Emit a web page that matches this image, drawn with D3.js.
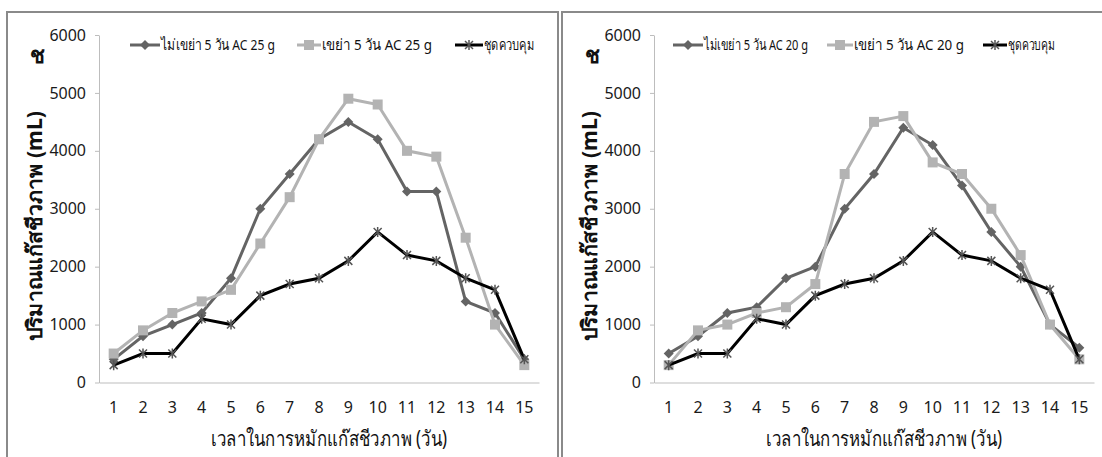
<!DOCTYPE html>
<html>
<head>
<meta charset="utf-8">
<script src="https://cdn.jsdelivr.net/npm/d3@7"></script>
<style>
  body { margin: 0; background: #fff; }
  svg { display: block; }
  .axis text { font-family: "Noto Sans", "DejaVu Sans", sans-serif; font-stretch: condensed; font-size: 16px; fill: #1a1a1a; }
  .axis path, .axis line { stroke: #bdbdbd; }
  .lbl { font-family: "Noto Sans", "DejaVu Sans", sans-serif; fill: #111; }
</style>
</head>
<body>
<svg width="1102" height="457"></svg>
<script>
// days of composting
var days = [1, 2, 3, 4, 5, 6, 7, 8, 9, 10, 11, 12, 13, 14, 15];
var yTicks = [0, 1000, 2000, 3000, 4000, 5000, 6000];

// left panel: AC 25 g
var noShake25 = [400, 800, 1000, 1200, 1800, 3000, 3600, 4200, 4500, 4200, 3300, 3300, 1400, 1200, 400];
var shake25   = [500, 900, 1200, 1400, 1600, 2400, 3200, 4200, 4900, 4800, 4000, 3900, 2500, 1000, 300];
var control25 = [300, 500, 500, 1100, 1000, 1500, 1700, 1800, 2100, 2600, 2200, 2100, 1800, 1600, 400];

// right panel: AC 20 g
var noShake20 = [500, 800, 1200, 1300, 1800, 2000, 3000, 3600, 4400, 4100, 3400, 2600, 2000, 1000, 600];
var shake20   = [300, 900, 1000, 1200, 1300, 1700, 3600, 4500, 4600, 3800, 3600, 3000, 2200, 1000, 400];
var control20 = [300, 500, 500, 1100, 1000, 1500, 1700, 1800, 2100, 2600, 2200, 2100, 1800, 1600, 400];

var names25 = ["ไม่เขย่า 5 วัน AC 25 g", "เขย่า 5 วัน AC 25 g", "ชุดควบคุม"];
var names20 = ["ไม่เขย่า 5 วัน AC 20 g", "เขย่า 5 วัน AC 20 g", "ชุดควบคุม"];

var colors = ["#646464", "#b3b3b3", "#000000"];
var shapes = ["diamond", "square", "star"];

var yTitle = "ปริมาณแก๊สชีวภาพ (mL)";
var xTitle = "เวลาในการหมักแก๊สชีวภาพ (วัน)";

var svg = d3.select("svg");

function marker(sel, shape, color) {
  if (shape === "diamond") {
    sel.append("path").attr("d", "M0,-5L5,0L0,5L-5,0Z").attr("fill", color);
  } else if (shape === "square") {
    sel.append("rect").attr("x", -5).attr("y", -5).attr("width", 10).attr("height", 10).attr("fill", color);
  } else {
    sel.append("path").attr("d", "M-4,-4L4,4M-4,4L4,-4M0,-5L0,5")
      .attr("stroke", "#555").attr("stroke-width", 1.5).attr("fill", "none");
  }
}

function panel(left, width, series, names, legendPos) {
  var g = svg.append("g"),
    x0 = left + 92, x1 = x0 + 440,
    x = d3.scaleBand().domain(days).range([x0, x1]),
    y = d3.scaleLinear().domain([0, 6000]).range([382.5, 35]);

  // frame
  g.append("rect")
    .attr("x", left).attr("y", 12)
    .attr("width", width).attr("height", 470)
    .attr("fill", "none").attr("stroke", "#8a8a8a").attr("stroke-width", 2);

  g.append("g").attr("class", "axis")
    .attr("transform", "translate(" + x0 + ",0)")
    .call(d3.axisLeft(y).tickValues(yTicks).tickFormat(d3.format("d"))
      .tickSize(4).tickSizeOuter(0).tickPadding(9));

  g.append("g").attr("class", "axis")
    .attr("transform", "translate(0," + y(0) + ")")
    .call(d3.axisBottom(x).tickSize(0).tickSizeOuter(0).tickPadding(19));

  var line = d3.line()
    .x(function(d, i) { return x(days[i]) + x.bandwidth() / 2; })
    .y(function(d) { return y(d); });

  series.forEach(function(s, k) {
    g.append("path").datum(s)
      .attr("fill", "none")
      .attr("stroke", colors[k])
      .attr("stroke-width", 3)
      .attr("d", line);
    g.append("g").selectAll("g")
      .data(s).enter().append("g")
      .attr("transform", function(d, i) {
        return "translate(" + (x(days[i]) + x.bandwidth() / 2) + "," + y(d) + ")";
      })
      .each(function() { marker(d3.select(this), shapes[k], colors[k]); });
  });

  // legend: [x, line length, text width]
  names.forEach(function(n, k) {
    var p = legendPos[k];
    var lg = g.append("g").attr("transform", "translate(" + p[0] + ",45)");
    lg.append("line").attr("x1", 0).attr("x2", p[1])
      .attr("stroke", colors[k]).attr("stroke-width", 3);
    marker(lg.append("g").attr("transform", "translate(" + p[1] / 2 + ",0)"), shapes[k], colors[k]);
    lg.append("text").attr("class", "lbl")
      .attr("x", p[1] + 1).attr("y", 5)
      .attr("font-size", 15)
      .attr("textLength", p[2]).attr("lengthAdjust", "spacingAndGlyphs")
      .text(n);
  });

  g.append("text").attr("class", "lbl")
    .attr("transform", "translate(" + (left + 35) + ",226) rotate(-90)")
    .attr("text-anchor", "middle")
    .attr("font-size", 21).attr("font-weight", "bold")
    .attr("textLength", 230).attr("lengthAdjust", "spacingAndGlyphs")
    .text(yTitle);

  g.append("text").attr("class", "lbl")
    .attr("x", left + 23).attr("y", 63)
    .attr("font-size", 22).attr("font-weight", "bold")
    .text("ช");

  g.append("text").attr("class", "lbl")
    .attr("x", (x0 + x1) / 2 + 10).attr("y", 446)
    .attr("text-anchor", "middle")
    .attr("font-size", 21)
    .attr("textLength", 236).attr("lengthAdjust", "spacingAndGlyphs")
    .text(xTitle);
}

panel(7, 551, [noShake25, shake25, control25], names25, [[130, 30, 114], [297, 24, 110], [455, 28, 50]]);
panel(562, 560, [noShake20, shake20, control20], names20, [[673, 30, 104], [827, 26, 110], [983, 24, 47]]);
</script>
</body>
</html>
